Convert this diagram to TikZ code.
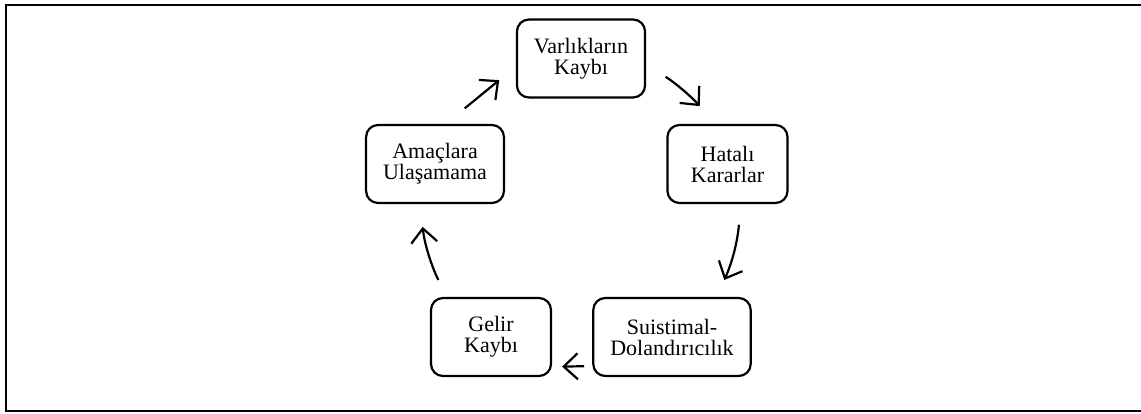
\documentclass[tikz,border=0pt]{standalone}
\usepackage{fontspec}
\setmainfont{Liberation Serif}
\usepackage{tikz}
\usetikzlibrary{arrows.meta}

\begin{document}
\begin{tikzpicture}[x=1pt,y=1pt,
        box/.style={shape=rectangle,draw=black,line width=2.2pt,rounded corners=12pt,align=center,
                    minimum width=120pt,minimum height=78pt,inner xsep=17pt,font=\fontsize{22}{21}\selectfont},
        flow/.style={->,line width=2.2pt,>={Straight Barb[length=14pt,width=26pt]}}]
        \useasboundingbox (0,0) rectangle (1141,413);
        \draw[line width=2pt] (1145,407.8) -- (6.2,407.8) -- (6.2,2.2) -- (1145,2.2);

        \node[box] (varlik) at (581, 354.5)    {Varlıkların\\Kaybı};
        \node[box] (hatali) at (727.5, 249)    {Hatalı\\Kararlar};
        \node[box] (suistimal) at (672, 76)    {Suistimal-\\Dolandırıcılık};
        \node[box] (gelir) at (491, 76)        {Gelir\\Kaybı};
        \node[box] (amac) at (435, 249)        {Amaçlara\\Ulaşamama};

	\path[flow,shorten <=24.5pt,shorten >=21.5pt] (amac.75) edge (varlik.187);
	\path[flow,shorten <=23.3pt,shorten >=23.6pt] (varlik.355) edge[bend left=8] (hatali.107);
	\path[flow,shorten <=20.7pt,shorten >=18.6pt] (hatali.288) edge[bend left=10] (suistimal.42);
	\path[flow,shorten <=8pt,shorten >=10pt] (suistimal.200.6) edge (gelir.334.2);
	\path[flow,shorten <=18.8pt,shorten >=22.9pt] (gelir.138) edge[bend left=10] (amac.250);
\end{tikzpicture}
\end{document}
